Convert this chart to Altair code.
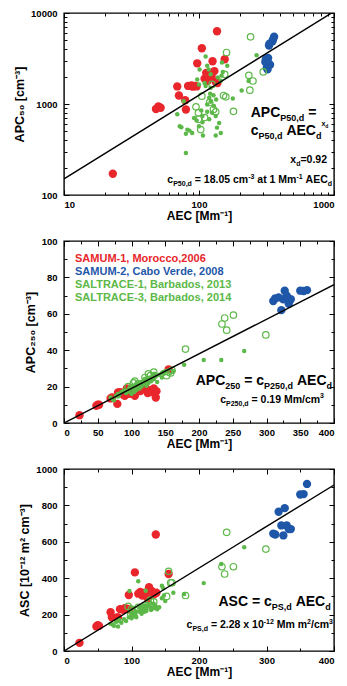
import altair as alt
import pandas as pd

FONT = "Liberation Sans"
RED = "#e8262b"
BLUE = "#1f57a8"
GREEN = "#5cb848"

# ---------------- data ----------------
# SAMUM-1, Morocco 2006
red_aec = [23, 48, 50, 52, 69, 71, 79, 80, 83, 88, 90, 93, 96, 97, 105, 110, 113, 116, 120, 124, 126, 130, 133, 136, 137, 155]
red_apc50 = [171, 880, 940, 910, 1560, 1240, 1100, 870, 1580, 1600, 1550, 1580, 1560, 2800, 4100, 1900, 2200, 1800, 2100, 2000, 2950, 2300, 1750, 6300, 1700, 3100]
red_apc250 = [4.3, 9.5, 10, 10, 13.5, 14, 10.5, 16.8, 17, 15.5, 15, 19, 18.5, 16, 15, 18, 17.5, 19.5, 20, 16.5, 18, 17, 19, 14, 17.5, 29.5]
red_asc = [45, 135, 142, 138, 213, 185, 185, 185, 230, 225, 235, 232, 308, 228, 432, 315, 325, 305, 320, 290, 350, 330, 310, 640, 320, 423]

# SAMUM-2, Cabo Verde 2008
blue_aec = [310, 313, 318, 322, 325, 327, 330, 333, 336, 350, 355, 360]
blue_apc50 = [2900, 3100, 2500, 2400, 3200, 2800, 4400, 4600, 2700, 4900, 5200, 5500]
blue_apc250 = [67, 68.5, 69, 62, 68, 72.7, 70, 65.5, 68, 72.7, 72.5, 73]
blue_asc = [645, 640, 765, 690, 635, 785, 690, 670, 670, 860, 862, 918]

# SALTRACE-1, Barbados 2013 (small filled dots)
s1_aec = [69, 72, 74, 77, 80, 80, 82, 85, 89, 92, 96, 97, 100, 100, 101, 104, 106, 106, 107, 110,
          112, 112, 115, 115, 115, 118, 119, 119, 121, 122, 122, 122, 125, 128, 129, 133, 133, 134,
          136, 138, 141, 145, 145, 147, 148, 150, 162, 178, 207, 233, 267]
s1_apc50 = [770, 570, 555, 1070, 470, 290, 523, 510, 480, 700, 660, 1860, 570, 1640, 2400, 850, 740, 630, 450, 1700,
            3330, 1580, 2630, 990, 820, 2400, 1170, 680, 1300, 2120, 1060, 1510, 800, 1250, 950, 740, 450, 1120,
            550, 1950, 620, 1800, 480, 2050, 2850, 2250, 2630, 1150, 1410, 1790, 3440]
s1_apc250 = [14, 13, 12.5, 15, 14.5, 16, 15.5, 17, 18, 16.5, 17.5, 19, 16, 18.5, 20, 17, 19.5, 21, 18, 20.5,
             22, 19, 21, 22.5, 20, 23, 21.5, 24, 22, 23.5, 20.5, 24.5, 22, 25, 23, 26, 24, 27,
             25.5, 22.5, 26.5, 27.5, 25, 28, 27, 28.5, 28.5, 32, 34.6, 34.6, 39.6]
s1_asc = [150, 145, 139, 160, 135, 165, 170, 155, 175, 165, 185, 330, 180, 200, 190, 205, 195, 215, 185, 383,
          215, 240, 225, 205, 230, 250, 215, 235, 331, 220, 245, 230, 255, 240, 225, 260, 235, 250,
          245, 230, 240, 290, 359, 345, 305, 275, 320, 313, 373, 478, 570]

# SALTRACE-3, Barbados 2014 (open circles)
s3_aec = [95, 99, 100, 103, 105, 110, 120, 125, 128, 133, 152, 155, 158, 160, 180, 234, 238, 241, 251, 299]
s3_apc50 = [930, 800, 680, 523, 1220, 710, 1040, 1640, 870, 820, 1240, 2120, 1200, 3680, 830, 2065, 1420, 5470, 1790, 2250]
s3_apc250 = [20, 18, 19.5, 22, 23, 21.5, 25, 27, 26, 28, 26, 28, 27.5, 29, 40.6, 54.4, 57.7, 51, 59.3, 48.4]
s3_asc = [245, 200, 230, 210, 225, 240, 250, 265, 280, 270, 300, 438, 375, 375, 305, 463, 423, 652, 463, 560]

# fitted relations given in the panels
fit50_c, fit50_x = 18.05, 0.92
fit250_c = 0.19
fitps_c = 2.28

legend_labels = ["SAMUM-1, Morocco,2006", "SAMUM-2, Cabo Verde, 2008",
                 "SALTRACE-1, Barbados, 2013", "SALTRACE-3, Barbados, 2014"]
legend_colors = [RED, BLUE, GREEN, GREEN]

W_PLOT, H_PLOT = 270, 182

# ---------------- helpers ----------------
CW = {' ': 278, ',': 278, '-': 333, '.': 278, '/': 278, '=': 584, 'A': 722, 'C': 722, 'E': 667,
      'M': 833, 'P': 667, 'S': 667, 'a': 556, 'c': 556, 'd': 611, 'm': 889, 't': 333, 'x': 556}


def tw(s, fs):
    return sum(CW.get(ch, 556) for ch in s) * fs / 1000.0


def rich(segs, base, x=None, right=None, color="black"):
    total = sum(tw(t, fs) for t, fs, dy in segs)
    cur = x if x is not None else right - total
    rows = []
    for t, fs, dy in segs:
        lead = len(t) - len(t.lstrip(' '))
        rows.append(dict(px=cur + tw(' ' * lead, fs), py=base + dy, t=t.strip(), fs=fs, c=color))
        cur += tw(t, fs)
    return rows


def text_layer(rows):
    return alt.Chart(pd.DataFrame(rows)).mark_text(
        align="left", baseline="alphabetic", font=FONT, fontWeight="bold"
    ).encode(
        x=alt.X("px:Q", scale=None, axis=None),
        y=alt.Y("py:Q", scale=None, axis=None),
        text="t:N",
        size=alt.Size("fs:Q", scale=None, legend=None),
        color=alt.Color("c:N", scale=None, legend=None),
    )


def axis(orient, values, major, label_expr=None, title=None):
    kw = dict(orient=orient, values=values, domain=False, grid=False,
              tickColor="black", tickWidth=1,
              tickSize={"condition": {"test": major, "value": -5}, "value": -3})
    if label_expr is not None:
        kw.update(labelExpr=label_expr, labelFont=FONT, labelFontWeight="bold", labelFontSize=9.5,
                  labelColor="black", title=title, titleFont=FONT, titleFontWeight="bold",
                  titleColor="black")
        if orient in ("bottom", "top"):
            kw.update(labelPadding=9, titleFontSize=12, titlePadding=2)
        else:
            kw.update(labelPadding=12, titleFontSize=12.5, titlePadding=4)
    else:
        kw.update(labels=False, title=None)
    return alt.Axis(**kw)


def panel(xs, ys, fit, xscale, yscale, xvals, xmajor, xlab, yvals, ymajor, ylab, ytitle, texts):
    groups = [
        (red_aec, ys[0], dict(filled=True, size=70, color=RED, opacity=1)),
        (blue_aec, ys[1], dict(filled=True, size=70, color=BLUE, opacity=1)),
        (s3_aec, ys[3], dict(filled=False, size=42, color=GREEN, strokeWidth=1.2, opacity=1)),
        (s1_aec, ys[2], dict(filled=True, size=20, color=GREEN, opacity=1)),
    ]
    layers = []
    first = True
    for gx, gy, style in groups:
        df = pd.DataFrame({"aec": gx, "val": gy})
        if first:
            xe = alt.X("aec:Q", scale=xscale, axis=axis("bottom", xvals, xmajor, xlab, "AEC [Mm⁻¹]"))
            ye = alt.Y("val:Q", scale=yscale, axis=axis("left", yvals, ymajor, ylab, ytitle))
            first = False
        else:
            xe = alt.X("aec:Q", scale=xscale, axis=None)
            ye = alt.Y("val:Q", scale=yscale, axis=None)
        layers.append(alt.Chart(df).mark_point(shape="circle", **style).encode(x=xe, y=ye))
    # mirror axes (top / right) with ticks only
    mdf = pd.DataFrame({"aec": red_aec, "val": ys[0]})
    layers.append(alt.Chart(mdf).mark_point(opacity=0).encode(
        x=alt.X("aec:Q", scale=xscale, axis=axis("top", xvals, xmajor)),
        y=alt.Y("val:Q", scale=yscale, axis=axis("right", yvals, ymajor)),
    ))
    fdf = pd.DataFrame({"aec": fit[0], "val": fit[1]})
    layers.append(alt.Chart(fdf).mark_line(color="black", strokeWidth=1.4, clip=True).encode(
        x=alt.X("aec:Q", scale=xscale, axis=None),
        y=alt.Y("val:Q", scale=yscale, axis=None),
    ))
    layers.append(text_layer(texts))
    return alt.layer(*layers).resolve_axis(x="independent", y="independent").properties(
        width=W_PLOT, height=H_PLOT)


# ---------------- panel 1 (log-log) ----------------
logx_vals = [m * d for d in [10, 100] for m in range(1, 10)] + [1000]
logy_vals = [m * d for d in [100, 1000] for m in range(1, 10)] + [10000]
fx1 = [10, 1000]
fy1 = [fit50_c * v ** fit50_x for v in fx1]

t1 = []
t1 += rich([("APC", 14, 0), ("P50,d", 9, 4), (" =", 14, 0)], base=103.5, x=186.7)
t1 += rich([("c", 14, 0), ("P50,d", 9, 4), (" AEC", 14, 0), ("d", 9, 4), ("x", 7, -9), ("d", 5, -7)], base=122, x=186.7)
t1 += rich([("x", 10.5, 0), ("d", 7, 3), ("=0.92", 10.5, 0)], base=150, right=263)
t1 += rich([("c", 10.5, 0), ("P50,d", 7, 3), (" = 18.05 cm", 10.5, 0), ("-3", 7, -4.5), (" at 1 Mm", 10.5, 0),
            ("-1", 7, -4.5), (" AEC", 10.5, 0), ("d", 7, 3)], base=170, right=268)

p1 = panel(
    red_aec, [red_apc50, blue_apc50, s1_apc50, s3_apc50], (fx1, fy1),
    alt.Scale(type="log", domain=[10, 1000], nice=False),
    alt.Scale(type="log", domain=[100, 10000], nice=False),
    logx_vals, "datum.value==10||datum.value==100||datum.value==1000",
    "(datum.value==10||datum.value==100||datum.value==1000) ? format(datum.value,'d') : ''",
    logy_vals, "datum.value==100||datum.value==1000||datum.value==10000",
    "(datum.value==100||datum.value==1000||datum.value==10000) ? format(datum.value,'d') : ''",
    "APC₅₀ [cm⁻³]", t1,
)

# ---------------- panel 2 ----------------
fx2 = [0, 400]
fy2 = [fit250_c * v for v in fx2]
t2 = []
t2 += rich([("APC", 14, 0), ("250", 9, 4), (" = c", 14, 0), ("P250,d", 9, 4), (" AEC", 14, 0), ("d", 9, 4)], base=144, right=268)
t2 += rich([("c", 10.5, 0), ("P250,d", 7, 3), (" = 0.19 Mm/cm", 10.5, 0), ("3", 7, -4.5)], base=161.5, right=260)
for i, (lab, col) in enumerate(zip(legend_labels, legend_colors)):
    t2 += rich([(lab, 11, 0)], base=20.7 + 13.2 * i, x=11, color=col)

p2 = panel(
    red_aec, [red_apc250, blue_apc250, s1_apc250, s3_apc250], (fx2, fy2),
    alt.Scale(domain=[0, 400], nice=False),
    alt.Scale(domain=[0, 100], nice=False),
    list(range(0, 401, 25)), "datum.value % 50 === 0",
    "datum.value % 50 === 0 ? format(datum.value,'d') : ''",
    list(range(0, 101, 10)), "datum.value % 20 === 0",
    "datum.value % 20 === 0 ? format(datum.value,'d') : ''",
    "APC₂₅₀ [cm⁻³]", t2,
)

# ---------------- panel 3 ----------------
fx3 = [0, 400]
fy3 = [fitps_c * v for v in fx3]
t3 = []
t3 += rich([("ASC = c", 14, 0), ("PS,d", 9, 4), (" AEC", 14, 0), ("d", 9, 4)], base=136.7, right=266.7)
t3 += rich([("c", 10.5, 0), ("PS,d", 7, 3), (" = 2.28 x 10", 10.5, 0), ("-12", 7, -4.5), (" Mm m", 10.5, 0),
            ("2", 7, -4.5), ("/cm", 10.5, 0), ("3", 7, -4.5)], base=159, right=269)

p3 = panel(
    red_aec, [red_asc, blue_asc, s1_asc, s3_asc], (fx3, fy3),
    alt.Scale(domain=[0, 400], nice=False),
    alt.Scale(domain=[0, 1000], nice=False),
    list(range(0, 401, 50)), "datum.value % 100 === 0",
    "datum.value % 100 === 0 ? format(datum.value,'d') : ''",
    list(range(0, 1001, 100)), "datum.value % 200 === 0",
    "datum.value % 200 === 0 ? format(datum.value,'d') : ''",
    "ASC [10⁻¹² m² cm⁻³]", t3,
)

chart = alt.vconcat(p1, p2, p3, spacing=12).properties(
    padding={"left": 12, "top": 7, "right": 0, "bottom": 0}
).configure_view(stroke="black", strokeWidth=1.4)

chart.save("out.html", embed_options={"renderer": "svg", "actions": False})
